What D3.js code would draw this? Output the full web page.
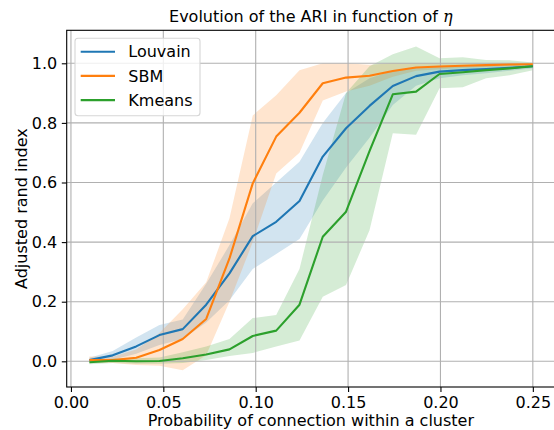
<!DOCTYPE html>
<html>
<head>
<meta charset="utf-8">
<script src="https://cdn.jsdelivr.net/npm/d3@7"></script>
<style>
  body { margin: 0; background: #fff; }
  svg { display: block; font-family: "DejaVu Sans", sans-serif; }
</style>
</head>
<body>
<div id="chart"></div>
<script>
// probability of connection within a cluster (20 points from 0.01 to 0.25)
var probs = [0.01, 0.0226, 0.0353, 0.0479, 0.0605, 0.0732, 0.0858, 0.0984, 0.1111, 0.1237,
  0.1363, 0.1489, 0.1616, 0.1742, 0.1868, 0.1995, 0.2121, 0.2247, 0.2374, 0.25];

var louvainMean = [0.004, 0.02, 0.05, 0.088, 0.108, 0.19, 0.295, 0.42, 0.468, 0.538,
  0.687, 0.782, 0.857, 0.924, 0.957, 0.972, 0.977, 0.981, 0.985, 0.99];
var louvainLow = [-0.004, 0.005, 0.025, 0.055, 0.075, 0.13, 0.205, 0.31, 0.36, 0.41,
  0.54, 0.65, 0.75, 0.86, 0.925, 0.95, 0.96, 0.967, 0.975, 0.983];
var louvainHigh = [0.012, 0.035, 0.08, 0.122, 0.14, 0.26, 0.39, 0.53, 0.6, 0.67,
  0.8, 0.9, 0.95, 0.975, 0.985, 0.99, 0.992, 0.994, 0.995, 0.997];

var sbmMean = [0.004, 0.004, 0.012, 0.038, 0.075, 0.142, 0.345, 0.597, 0.754, 0.834,
  0.933, 0.952, 0.958, 0.974, 0.986, 0.989, 0.992, 0.994, 0.996, 0.997];
var sbmLow = [-0.006, -0.006, -0.012, -0.015, -0.03, 0.02, 0.2, 0.4, 0.63, 0.7,
  0.875, 0.905, 0.925, 0.955, 0.975, 0.98, 0.985, 0.988, 0.99, 0.993];
var sbmHigh = [0.016, 0.015, 0.04, 0.095, 0.175, 0.265, 0.48, 0.825, 0.893, 0.977,
  1.0, 1.0, 0.995, 1.0, 1.0, 1.0, 1.0, 1.0, 1.0, 1.0];

var kmeansMean = [-0.003, 0.002, 0.0, 0.001, 0.01, 0.023, 0.04, 0.085, 0.103, 0.19,
  0.418, 0.502, 0.705, 0.896, 0.905, 0.964, 0.97, 0.977, 0.983, 0.99];
var kmeansLow = [-0.01, -0.006, -0.008, -0.008, -0.006, 0.004, 0.018, 0.028, 0.05, 0.07,
  0.217, 0.256, 0.44, 0.765, 0.76, 0.916, 0.92, 0.95, 0.96, 0.977];
var kmeansHigh = [0.005, 0.009, 0.01, 0.013, 0.03, 0.05, 0.075, 0.145, 0.155, 0.31,
  0.625, 0.9, 0.99, 1.03, 1.056, 1.017, 1.02, 1.011, 1.01, 1.003];

var seriesNames = ["Louvain", "SBM", "Kmeans"];
var colors = ["#1f77b4", "#ff7f0e", "#2ca02c"];
var xTicks = [0.00, 0.05, 0.10, 0.15, 0.20, 0.25];
var yTicks = [0.0, 0.2, 0.4, 0.6, 0.8, 1.0];

var series = [
  { name: seriesNames[0], mean: louvainMean, low: louvainLow, high: louvainHigh, color: colors[0] },
  { name: seriesNames[1], mean: sbmMean, low: sbmLow, high: sbmHigh, color: colors[1] },
  { name: seriesNames[2], mean: kmeansMean, low: kmeansLow, high: kmeansHigh, color: colors[2] }
];

var w = 554;
var h = 430;
// axes box (right spine falls just outside the picture)
var axL = 66.7, axR = 555, axT = 30.3, axB = 387;

var x = d3.scaleLinear().domain([-0.0023, 0.262]).range([axL, axR]);
var y = d3.scaleLinear().domain([-0.0862, 1.1107]).range([axB, axT]);

var svg = d3.select("#chart").append("svg").attr("width", w).attr("height", h);

svg.append("clipPath").attr("id", "clip")
  .append("rect").attr("x", axL).attr("y", axT)
  .attr("width", axR - axL).attr("height", axB - axT);

var bands = svg.append("g").attr("clip-path", "url(#clip)");

// bands first (fill_between)
var area = d3.area()
  .x((d, i) => x(probs[i]))
  .y0((d) => y(d[0]))
  .y1((d) => y(d[1]));

series.forEach((s) => {
  var pts = s.low.map((v, i) => [v, s.high[i]]);
  bands.append("path")
    .attr("d", area(pts))
    .attr("fill", s.color)
    .attr("fill-opacity", 0.2);
});

// grid sits above the bands but below the lines
var grid = svg.append("g");
grid.selectAll(".gx").data(xTicks).enter().append("line")
  .attr("x1", (d) => x(d)).attr("x2", (d) => x(d))
  .attr("y1", axT).attr("y2", axB)
  .attr("stroke", "#b0b0b0").attr("stroke-width", 1.1);
grid.selectAll(".gy").data(yTicks).enter().append("line")
  .attr("x1", axL).attr("x2", axR)
  .attr("y1", (d) => y(d)).attr("y2", (d) => y(d))
  .attr("stroke", "#b0b0b0").attr("stroke-width", 1.1);

var line = d3.line()
  .x((d, i) => x(probs[i]))
  .y((d) => y(d));

var lines = svg.append("g").attr("clip-path", "url(#clip)");
series.forEach((s) => {
  lines.append("path")
    .attr("d", line(s.mean))
    .attr("fill", "none")
    .attr("stroke", s.color)
    .attr("stroke-width", 2.1)
    .attr("stroke-linejoin", "round");
});

// axes
var xAxis = d3.axisBottom(x).tickValues(xTicks).tickFormat(d3.format(".2f"))
  .tickSize(4.9).tickPadding(4.5);
var yAxis = d3.axisLeft(y).tickValues(yTicks).tickFormat(d3.format(".1f"))
  .tickSize(4.9).tickPadding(4.5);

var gx = svg.append("g").attr("transform", "translate(0," + axB + ")").call(xAxis);
var gy = svg.append("g").attr("transform", "translate(" + axL + ",0)").call(yAxis);
[gx, gy].forEach((g) => {
  g.select(".domain").remove();
  g.selectAll("line").attr("stroke", "#000").attr("stroke-width", 1.1);
  g.selectAll("text").attr("fill", "#000")
    .style("font-family", "DejaVu Sans").style("font-size", "16px");
});

// spines
svg.append("rect")
  .attr("x", axL).attr("y", axT)
  .attr("width", axR - axL).attr("height", axB - axT)
  .attr("fill", "none").attr("stroke", "#000").attr("stroke-width", 1.1);

// title and labels
var title = svg.append("text")
  .attr("x", (axL + axR) / 2).attr("y", 22)
  .attr("text-anchor", "middle")
  .style("font-size", "16px");
title.append("tspan").text("Evolution of the ARI in function of ");
title.append("tspan").style("font-style", "italic").style("font-family", "DejaVu Serif").text("η");

svg.append("text")
  .attr("x", (axL + axR) / 2).attr("y", 426)
  .attr("text-anchor", "middle")
  .style("font-size", "16px")
  .text("Probability of connection within a cluster");

svg.append("text")
  .attr("transform", "translate(27," + (axT + axB) / 2 + ") rotate(-90)")
  .attr("text-anchor", "middle")
  .style("font-size", "16px")
  .text("Adjusted rand index");

// legend
var legend = svg.append("g");
legend.append("rect")
  .attr("x", 75).attr("y", 38.3).attr("width", 125).attr("height", 77.4)
  .attr("rx", 3).attr("fill", "#fff").attr("fill-opacity", 0.8)
  .attr("stroke", "#d6d6d6").attr("stroke-width", 1.1);
seriesNames.forEach((name, i) => {
  var ly = 51.7 + i * 24.2;
  legend.append("line")
    .attr("x1", 80.7).attr("x2", 115).attr("y1", ly).attr("y2", ly)
    .attr("stroke", colors[i]).attr("stroke-width", 2.1);
  legend.append("text")
    .attr("x", 128.3).attr("y", ly).attr("dy", "0.35em")
    .style("font-size", "16px")
    .text(name);
});
</script>
</body>
</html>
